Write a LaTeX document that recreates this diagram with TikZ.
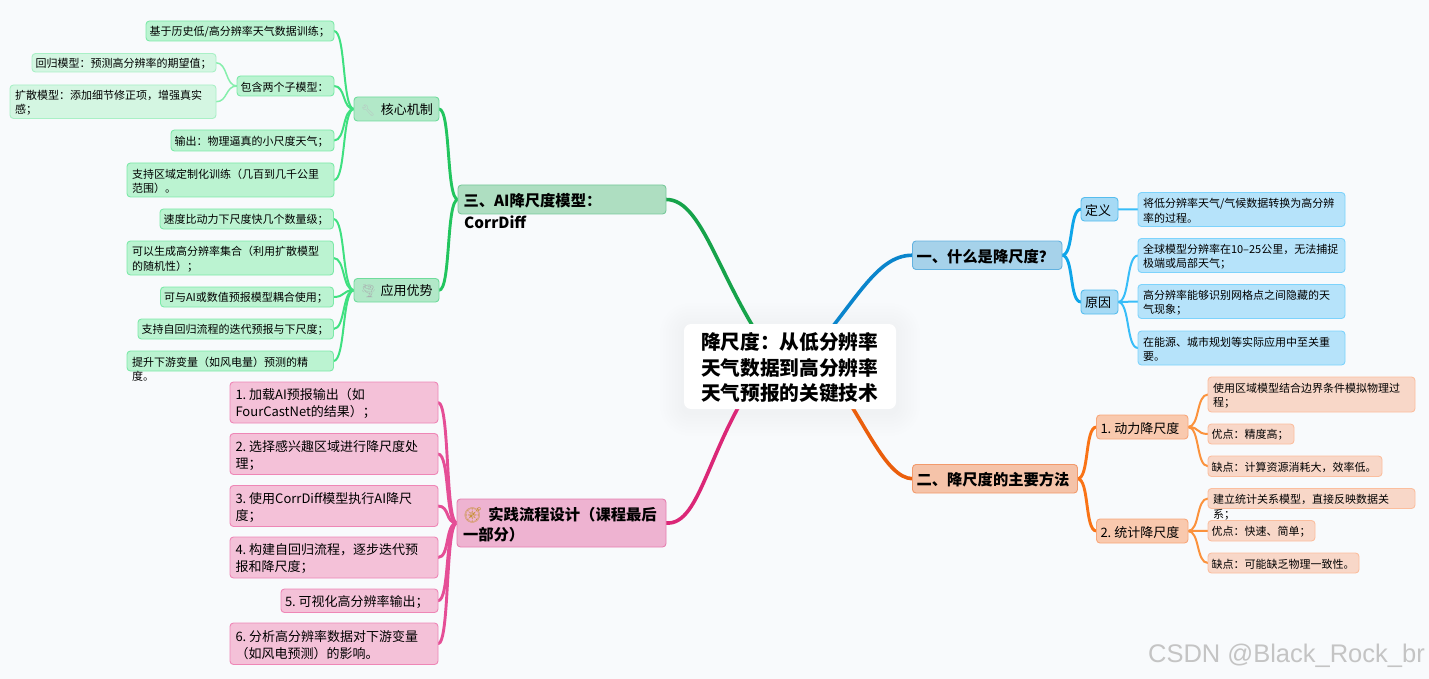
\documentclass[tikz,border=0pt]{standalone}
\usepackage{fontspec}
\setmainfont{Noto Sans CJK SC}
\newfontfamily\emo{Noto Emoji}
\newfontfamily\wmfont{Liberation Sans}
\AtBeginDocument{\frenchspacing}
\definecolor{bgc}{HTML}{F8FAFC}
\pgfdeclarelayer{backl}\pgfdeclarelayer{connl}
\pgfsetlayers{backl,connl,main}
\definecolor{cAEDEC1}{HTML}{AEDEC1}\definecolor{c78C99A}{HTML}{78C99A}
\definecolor{cB2E8C8}{HTML}{B2E8C8}\definecolor{c6FDC9C}{HTML}{6FDC9C}
\definecolor{cBBF3D1}{HTML}{BBF3D1}\definecolor{c7CE9A8}{HTML}{7CE9A8}
\definecolor{cD4F6E2}{HTML}{D4F6E2}\definecolor{cA9F0C6}{HTML}{A9F0C6}
\definecolor{cA6D2EA}{HTML}{A6D2EA}\definecolor{c62B2E0}{HTML}{62B2E0}
\definecolor{cA6DAF5}{HTML}{A6DAF5}\definecolor{c56BDEE}{HTML}{56BDEE}
\definecolor{cB6E3FA}{HTML}{B6E3FA}\definecolor{c7DD3FC}{HTML}{7DD3FC}
\definecolor{cF5C3A9}{HTML}{F5C3A9}\definecolor{cF29A6C}{HTML}{F29A6C}
\definecolor{cF9C9AE}{HTML}{F9C9AE}\definecolor{cF8A77A}{HTML}{F8A77A}
\definecolor{cF8D7C8}{HTML}{F8D7C8}\definecolor{cFBBE9E}{HTML}{FBBE9E}
\definecolor{cEEB3D1}{HTML}{EEB3D1}\definecolor{cE67FB0}{HTML}{E67FB0}
\definecolor{cF4C1D8}{HTML}{F4C1D8}\definecolor{cEE86B6}{HTML}{EE86B6}
\definecolor{gT}{HTML}{16A34A}\definecolor{gM}{HTML}{22C55E}\definecolor{gS}{HTML}{3FE080}\definecolor{gL}{HTML}{86EFAC}
\definecolor{bT}{HTML}{0A85CC}\definecolor{bM}{HTML}{0EA5E9}\definecolor{bS}{HTML}{38BDF8}
\definecolor{oT}{HTML}{EA5E0C}\definecolor{oM}{HTML}{F97316}\definecolor{oS}{HTML}{FB923C}
\definecolor{pT}{HTML}{DB2777}\definecolor{pM}{HTML}{E54E96}
\tikzset{
 bb/.style={draw,rounded corners=3.5pt,line width=.9pt,outer sep=0pt,inner ysep=0pt,text=black},
 fa/.style={font=\fontsize{11}{14.3}\selectfont},
 fb/.style={font=\fontsize{13}{17}\selectfont},
 fc/.style={font=\fontsize{15.3}{20}\selectfont\bfseries},
 root/.style={bb,draw=none,fill=white,rounded corners=7pt,font=\fontsize{19.7}{25.3}\selectfont\bfseries},
 ga/.style={bb,fc,fill=cAEDEC1,draw=c78C99A},
 gb/.style={bb,fb,fill=cB2E8C8,draw=c6FDC9C},
 gc/.style={bb,fa,fill=cBBF3D1,draw=c7CE9A8},
 gd/.style={bb,fa,fill=cD4F6E2,draw=cA9F0C6},
 ba/.style={bb,fc,fill=cA6D2EA,draw=c62B2E0},
 bbb/.style={bb,fb,fill=cA6DAF5,draw=c56BDEE},
 bc/.style={bb,fa,fill=cB6E3FA,draw=c7DD3FC},
 oa/.style={bb,fc,fill=cF5C3A9,draw=cF29A6C},
 ob/.style={bb,fb,fill=cF9C9AE,draw=cF8A77A},
 oc/.style={bb,fa,fill=cF8D7C8,draw=cFBBE9E},
 pa/.style={bb,fc,fill=cEEB3D1,draw=cE67FB0},
 pb/.style={bb,fb,fill=cF4C1D8,draw=cEE86B6},
 over/.style={inner sep=0pt,anchor=west,text=black},
 trunk/.style={line width=3.6pt,line cap=round},
 lm/.style={line width=2.9pt,line cap=round},
 ls/.style={line width=2pt,line cap=round},
 lt/.style={line width=1.5pt,line cap=round},
 sig/.style={out=0,in=180,distance=12pt},
}
\newcommand\bx[8][3.5]{%
 \pgfmathsetmacro\bw{#5-#3}\pgfmathsetmacro\bh{#6-#4}%
 \pgfmathsetmacro\tw{\bw-2*#1}%
 \pgfmathsetmacro\cx{(#3+#5)/2}\pgfmathsetmacro\cy{(#4+#6)/2}%
 \node[#2,inner xsep=#1pt,minimum width=\bw pt,minimum height=\bh pt] (#7) at (\cx,\cy)
  {\raisebox{-1.2pt}[\height][\depth]{\parbox[c]{\tw pt}{#8}}}}
\begin{document}
\begin{tikzpicture}[x=1pt,y=-1pt]
\useasboundingbox (0,0) rectangle (1429,679);
\begin{pgfonlayer}{backl}
\fill[bgc] (0,0) rectangle (1429,679);
\foreach \d in {24,21,18,15,12,9,6,3}
 \fill[black,opacity=.004,rounded corners=\d pt+6pt] (684-\d,324-\d+3) rectangle (896+\d,409+\d+3);
\end{pgfonlayer}
% root
\bx[17]{root}{684}{324}{896}{409}{root} {降尺度：从低分辨率\\天气数据到高分辨率\\天气预报的关键技术};
\coordinate (rNW) at (780,366);
\coordinate (rNE) at (800,366);
\coordinate (rSE) at (825,366);
\coordinate (rSW) at (765,366);
% green
\bx[5.5]{ga}{458}{185}{666}{214}{gA} {三、AI降尺度模型：};
\node[over,fc] (gAb) at (464,222) {CorrDiff};
\bx[7]{gb}{354}{97}{439}{121}{gK} {\mbox{{\emo\fontsize{11}{13}\selectfont\color[HTML]{B9C2C2}🔧}\hspace{6pt}核心机制}};
\bx[6]{gb}{354}{278.5}{439}{302}{gY} {\mbox{{\emo\fontsize{13}{15}\selectfont\color[HTML]{A9B0B0}🌪}\hspace{4pt}应用优势}};
\bx{gc}{146}{21}{334}{41}{g1} {基于历史低/高分辨率天气数据训练；};
\bx{gc}{237}{76}{334}{96}{g2} {包含两个子模型：};
\bx{gd}{32}{53.5}{216}{72}{g2a} {回归模型：预测高分辨率的期望值；};
\bx[5]{gd}{10}{85}{216}{118.5}{g2b} {扩散模型：添加细节修正项，增强真实\\感；};
\bx{gc}{171}{130}{334}{151}{g3} {输出：物理逼真的小尺度天气；};
\bx[5]{gc}{127}{163}{334}{197}{g4} {支持区域定制化训练（几百到几千公里\\范围）。};
\bx{gc}{160}{209}{333.5}{229}{y1} {速度比动力下尺度快几个数量级；};
\bx[5]{gc}{127}{241}{333.5}{275}{y2} {可以生成高分辨率集合（利用扩散模型\\的随机性）；};
\bx{gc}{160.5}{287}{333.5}{307}{y3} {可与AI或数值预报模型耦合使用；};
\bx{gc}{138}{319}{333.5}{339}{y4} {支持自回归流程的迭代预报与下尺度；};
\bx[5]{gc}{127}{351}{333.5}{371}{y5} {提升下游变量（如风电量）预测的精};
\node[over,fa] (y5b) at (132,376) {度。};
% pink
\bx[6]{pa}{457}{499}{666}{547}{pA} {\mbox{{\emo\color[HTML]{C8923A}🧭}\hspace{6pt}实践流程设计（课程最后}\\一部分）};
\bx[5.5]{pb}{230}{382}{438}{423}{p1} {1. 加载AI预报输出（如\\FourCastNet的结果）；};
\bx[5.5]{pb}{230}{433.5}{438}{474.5}{p2} {2. 选择感兴趣区域进行降尺度处\\理；};
\bx[5.5]{pb}{230}{485.5}{438}{526.5}{p3} {3. 使用CorrDiff模型执行AI降尺\\度；};
\bx[5.5]{pb}{230}{537}{438}{578}{p4} {4. 构建自回归流程，逐步迭代预\\报和降尺度；};
\bx[4]{pb}{281}{589}{438}{612.5}{p5} {5. 可视化高分辨率输出；};
\bx[5.5]{pb}{230}{623}{438}{664.5}{p6} {6. 分析高分辨率数据对下游变量\\（如风电预测）的影响。};
% blue
\bx[4]{ba}{912.5}{241}{1062}{269.5}{bA} {一、什么是降尺度？};
\bx[4]{bbb}{1081}{197.5}{1118}{221}{bD} {定义};
\bx[4]{bbb}{1081}{290}{1118}{314}{bY} {原因};
\bx[5]{bc}{1138}{192.5}{1345}{226.5}{b1} {将低分辨率天气/气候数据转换为高分辨\\率的过程。};
\bx[5]{bc}{1138}{238.5}{1345}{272.5}{b2} {全球模型分辨率在10–25公里，无法捕捉\\极端或局部天气；};
\bx[5]{bc}{1138}{284.5}{1345}{318.5}{b3} {高分辨率能够识别网格点之间隐藏的天\\气现象；};
\bx[5]{bc}{1138}{331}{1345}{365}{b4} {在能源、城市规划等实际应用中至关重\\要。};
% orange
\bx[4]{oa}{912.5}{464.5}{1077.5}{493}{oA} {二、降尺度的主要方法};
\bx[4]{ob}{1096.5}{415}{1188}{439}{oD} {1. 动力降尺度};
\bx[4]{ob}{1096.5}{519}{1188}{543}{oT1} {2. 统计降尺度};
\bx[5]{oc}{1208}{377}{1415}{412}{o1} {使用区域模型结合边界条件模拟物理过\\程；};
\bx{oc}{1208}{424}{1294}{444}{o2} {优点：精度高；};
\bx{oc}{1208}{456}{1382}{476.5}{o3} {缺点：计算资源消耗大，效率低。};
\bx[5]{oc}{1208}{488.5}{1415}{508.5}{o4} {建立统计关系模型，直接反映数据关};
\node[over,fa] (o4b) at (1213,515) {系；};
\bx{oc}{1208}{520.5}{1315}{541}{o5} {优点：快速、简单；};
\bx{oc}{1208}{553}{1359}{573}{o6} {缺点：可能缺乏物理一致性。};
% watermark
\node[anchor=east,inner sep=0pt,text=black!23,font=\wmfont\fontsize{25.5}{30}\selectfont] (wm) at (1425,656) {CSDN @Black\_Rock\_br};
% connectors
\begin{pgfonlayer}{connl}
\draw[trunk,gT] (gA.east) .. controls (705,199) and (720,290) .. (rNW);
\draw[trunk,bT] (bA.west) .. controls (875,255) and (855,305) .. (rNE);
\draw[trunk,oT] (oA.west) .. controls (885,478) and (865,420) .. (rSE);
\draw[trunk,pT] (pA.east) .. controls (702,526) and (708,440) .. (rSW);
\foreach \a in {gK,gY} \draw[lm,gM] (\a.east) to[sig] (gA.west);
\foreach \a in {g1,g2,g3,g4} \draw[ls,gS] (\a.east) to[sig] (gK.west);
\foreach \a in {y1,y2,y3,y4,y5} \draw[ls,gS] (\a.east) to[sig] (gY.west);
\foreach \a in {g2a,g2b} \draw[lt,gL] (\a.east) to[sig] (g2.west);
\foreach \a in {p1,p2,p3,p4,p5,p6} \draw[lm,pM] (\a.east) to[sig] (pA.west);
\foreach \a in {bD,bY} \draw[lm,bM] (bA.east) to[sig] (\a.west);
\draw[ls,bS] (bD.east) to[sig] (b1.west);
\foreach \a in {b2,b3,b4} \draw[ls,bS] (bY.east) to[sig] (\a.west);
\foreach \a in {oD,oT1} \draw[lm,oM] (oA.east) to[sig] (\a.west);
\foreach \a in {o1,o2,o3} \draw[ls,oS] (oD.east) to[sig] (\a.west);
\foreach \a in {o4,o5,o6} \draw[ls,oS] (oT1.east) to[sig] (\a.west);
\end{pgfonlayer}
\end{tikzpicture}
\end{document}
